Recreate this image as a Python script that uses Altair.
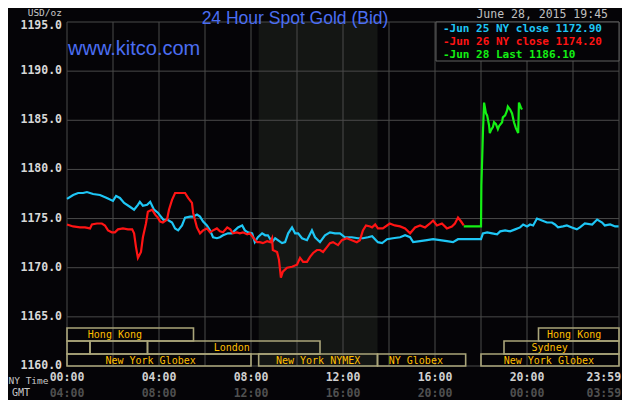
import altair as alt
import pandas as pd

# ---------------- data ----------------
series_names = ["Jun 25 NY close", "Jun 26 NY close", "Jun 28 Last"]
series_close = [1172.90, 1174.20, 1186.10]
series_colors = ["#1ec6f5", "#ff1414", "#14f014"]

# minutes after 00:00 NY time
jun25_t = [0,16,29,42,52,68,86,104,120,128,138,149,164,175,185,190,198,209,217,227,
           237,245,253,261,274,282,290,300,308,321,329,339,347,355,365,373,381,391,399,407,
           420,430,438,446,457,464,472,483,490,498,509,517,524,535,543,550,561,569,577,587,
           595,603,613,626,639,647,660,673,686,699,712,725,743,759,772,785,796,811,822,835,
           850,869,882,895,903,921,939,955,973,991,1007,1020,1043,1064,1080,1085,1096,1109,1122,1130,
           1143,1156,1169,1182,1190,1200,1208,1216,1226,1239,1252,1265,1273,1281,1294,1304,1317,1330,1338,1351,
           1370,1383,1396,1403,1417,1430,1439]
jun25_p = [1177.0,1177.4,1177.6,1177.6,1177.7,1177.5,1177.4,1177.1,1176.8,1177.3,
           1177.1,1176.6,1176.2,1175.9,1176.4,1176.7,1176.3,1176.4,1176.7,1175.9,
           1175.6,1175.2,1174.8,1174.9,1174.6,1174.0,1173.8,1174.3,1175.1,1175.2,
           1175.2,1175.4,1175.2,1174.7,1174.3,1173.8,1173.1,1173.0,1173.1,1173.3,
           1173.5,1173.5,1173.8,1174.1,1174.3,1173.8,1173.6,1173.5,1172.6,1173.1,
           1173.5,1173.3,1173.3,1172.6,1173.0,1172.8,1172.5,1172.6,1173.5,1174.1,
           1173.5,1173.5,1173.0,1172.8,1173.8,1173.1,1172.6,1173.3,1173.6,1173.5,
           1173.5,1173.1,1173.1,1173.0,1173.0,1173.1,1173.2,1172.6,1172.5,1172.9,
           1173.0,1173.1,1173.3,1173.1,1172.6,1172.7,1172.8,1172.9,1172.8,1172.7,
           1172.6,1172.9,1172.9,1172.9,1172.9,1173.5,1173.6,1173.5,1173.4,1173.7,
           1173.8,1173.7,1173.9,1174.1,1174.4,1174.2,1174.4,1174.3,1175.0,1174.8,
           1174.6,1174.6,1174.4,1174.1,1174.2,1174.3,1174.1,1173.9,1174.1,1174.5,
           1174.4,1174.9,1174.6,1174.3,1174.4,1174.2,1174.2]

jun26_t = [0,16,34,47,60,65,78,91,99,107,117,125,133,146,159,170,175,180,185,193,
           198,206,211,222,230,237,243,250,261,266,274,282,295,308,316,326,329,339,347,355,
           365,373,381,391,399,407,418,426,433,443,451,459,470,477,485,496,503,511,522,530,
           535,537,548,553,558,563,574,587,600,608,616,626,634,642,652,660,668,678,686,694,
           707,717,730,743,756,764,772,780,791,796,804,811,824,842,855,869,882,895,908,921,
           934,947,955,965,978,991,1004,1012,1020,1028,1035]
jun26_p = [1174.4,1174.2,1174.1,1174.1,1174.0,1174.4,1174.5,1174.5,1174.3,1173.8,
           1173.6,1173.6,1173.9,1174.0,1173.9,1173.9,1173.5,1172.1,1171.0,1171.6,
           1173.1,1174.5,1175.7,1175.9,1175.4,1175.1,1174.7,1174.6,1174.9,1175.9,
           1176.9,1177.6,1177.6,1177.6,1177.1,1176.6,1175.6,1174.1,1173.5,1173.8,
           1174.0,1173.6,1173.8,1174.0,1173.7,1173.6,1174.1,1173.9,1173.5,1173.6,
           1173.5,1173.6,1173.4,1173.5,1173.1,1172.6,1172.6,1172.5,1172.7,1172.6,
           1173.0,1171.8,1171.6,1170.8,1169.0,1169.6,1170.0,1170.1,1170.3,1171.0,
           1170.6,1170.6,1171.1,1171.5,1171.8,1171.8,1171.6,1172.1,1172.5,1172.6,
           1172.3,1172.8,1173.0,1172.8,1172.6,1172.8,1173.8,1174.3,1174.2,1174.1,
           1174.4,1174.0,1174.0,1174.5,1174.3,1174.2,1174.0,1173.5,1174.1,1174.3,
           1174.1,1174.5,1174.8,1174.3,1174.5,1174.0,1174.2,1174.5,1175.1,1174.7,
           1174.3]

jun28_t = [1035,1080,1081,1084,1085,1088,1093,1096,1101,1103,1106,1111,1114,1119,1124,
           1127,1135,1137,1143,1148,1150,1156,1161,1166,1171,1177,1179,1184,1187]
jun28_p = [1174.2,1174.2,1178.4,1182.3,1183.7,1186.8,1185.7,1185.5,1184.5,1183.7,
           1184.0,1184.3,1184.8,1184.6,1184.1,1184.4,1184.8,1185.3,1185.5,1186.0,
           1186.4,1186.1,1185.7,1184.8,1184.2,1183.7,1186.8,1186.3,1186.1]

y_ticks = [1160, 1165, 1170, 1175, 1180, 1185, 1190, 1195]
x_grid = [0, 120, 240, 360, 480, 600, 720, 840, 960, 1080, 1200, 1320, 1440]
x_label_t = [0, 240, 480, 720, 960, 1200]
ny_labels = ["00:00", "04:00", "08:00", "12:00", "16:00", "20:00"]
gmt_labels = ["04:00", "08:00", "12:00", "16:00", "20:00", "00:00"]
last_t, last_ny, last_gmt = 1439, "23:59", "03:59"

nymex_start, nymex_end = 500, 810

sess_start = [0, 1230, 0, 60, 210, 1140, 0, 500, 810, 1080]
sess_end = [330, 1440, 60, 210, 660, 1440, 480, 810, 1040, 1440]
sess_row = [0, 0, 1, 1, 1, 1, 2, 2, 2, 2]
sess_label = ["Hong Kong", "Hong Kong", "", "", "London", "Sydney",
              "New York Globex", "New York NYMEX", "NY Globex", "New York Globex"]
sess_label_t = [125, 1323, 30, 135, 430, 1259, 218, 655, 910, 1257]

title_text = "24 Hour Spot Gold (Bid)"
site_text = "www.kitco.com"
date_text = "June 28, 2015 19:45"
unit_text = "USD/oz"

# ---------------- styling ----------------
W, H = 552, 344
BG = "#050407"
GRID = "#4a4a4a"
MONO = "DejaVu Sans Mono"
SANS = "Liberation Sans"
BLUE_T = "#4b6ef2"
SESS_STROKE = "#aaa57a"
SESS_TEXT = "#ffbf00"

xs = alt.Scale(domain=[0, 1440], nice=False, zero=False)
ys = alt.Scale(domain=[1160, 1195], nice=False, zero=False)

one = pd.DataFrame({"a": [0]})

rows = []
for name, ts, ps in zip(series_names, [jun25_t, jun26_t, jun28_t], [jun25_p, jun26_p, jun28_p]):
    for t, p in zip(ts, ps):
        rows.append({"series": name, "t": t, "p": p})
df = pd.DataFrame(rows)

shade = alt.Chart(pd.DataFrame({"s": [nymex_start], "e": [nymex_end],
                                "top": [max(y_ticks)], "bot": [min(y_ticks)]})).mark_rect(
    color="#141614").encode(
    x=alt.X("s:Q", scale=xs, axis=None), x2="e:Q",
    y=alt.Y("top:Q", scale=ys, axis=None), y2="bot:Q")

vgrid = alt.Chart(pd.DataFrame({"t": x_grid})).mark_rule(color=GRID, strokeWidth=1).encode(
    x=alt.X("t:Q", scale=xs, axis=None))
hgrid = alt.Chart(pd.DataFrame({"p": y_ticks})).mark_rule(color=GRID, strokeWidth=1).encode(
    y=alt.Y("p:Q", scale=ys, axis=None))

ylab_df = pd.DataFrame({"p": y_ticks})
ylab = alt.Chart(ylab_df).transform_filter(alt.datum.p < max(y_ticks)).mark_text(
    font=MONO, fontSize=11.5, fontWeight="bold", color="#d8d8d8", align="right",
    baseline="middle", dx=-5).encode(
    x=alt.value(0), y=alt.Y("p:Q", scale=ys, axis=None), text=alt.Text("p:Q", format=".1f"))
ylab_top = alt.Chart(ylab_df).transform_filter(alt.datum.p == max(y_ticks)).mark_text(
    font=MONO, fontSize=11.5, fontWeight="bold", color="#d8d8d8", align="right",
    baseline="middle", dx=-5, dy=4).encode(
    x=alt.value(0), y=alt.Y("p:Q", scale=ys, axis=None), text=alt.Text("p:Q", format=".1f"))

sdf = pd.DataFrame({"s": sess_start, "e": sess_end, "row": sess_row,
                    "label": sess_label, "lt": sess_label_t})
row_top = [306, 319, 332]
row_bot = [319, 332, 344]
row_mid = [312.5, 325.5, 338.5]
sess_layers = []
for r in range(3):
    base = alt.Chart(sdf).transform_filter(alt.datum.row == r)
    sess_layers.append(base.mark_rect(fillOpacity=0, stroke=SESS_STROKE, strokeWidth=1.6).encode(
        x=alt.X("s:Q", scale=xs, axis=None), x2="e:Q",
        y=alt.value(row_top[r]), y2=alt.value(row_bot[r])))
    sess_layers.append(base.mark_text(font=MONO, fontSize=10, color=SESS_TEXT, baseline="middle").encode(
        x=alt.X("lt:Q", scale=xs, axis=None), y=alt.value(row_mid[r]), text="label:N"))

lines = alt.Chart(df).mark_line(strokeWidth=2.2).encode(
    x=alt.X("t:Q", scale=xs, axis=None),
    y=alt.Y("p:Q", scale=ys, axis=None),
    color=alt.Color("series:N", scale=alt.Scale(domain=series_names, range=series_colors), legend=None),
    detail="series:N")

legend_box = alt.Chart(one).mark_rect(fill=BG, stroke="#606060", strokeWidth=1).encode(
    x=alt.value(369), x2=alt.value(552), y=alt.value(0), y2=alt.value(39))
legend_layers = []
for i, (n, c, col) in enumerate(zip(series_names, series_close, series_colors)):
    legend_layers.append(alt.Chart(one).mark_text(
        text=f"-{n} {c:.2f}", font=MONO, fontSize=11, fontWeight="bold", color=col,
        align="left", baseline="middle").encode(x=alt.value(376), y=alt.value(6.5 + 13 * i)))

title = alt.Chart(one).mark_text(text=title_text, font=SANS, fontSize=17.5, color=BLUE_T,
                                 align="center", baseline="alphabetic").encode(
    x=alt.value(228), y=alt.value(1.9))
site = alt.Chart(one).mark_text(text=site_text, font=SANS, fontSize=20, color=BLUE_T,
                                align="left", baseline="alphabetic").encode(
    x=alt.value(1), y=alt.value(33))
date = alt.Chart(one).mark_text(text=date_text, font=MONO, fontSize=11.5, color="#c0c0c0",
                                align="right", baseline="middle").encode(
    x=alt.value(541), y=alt.value(-7))
unit = alt.Chart(one).mark_text(text=unit_text, font=MONO, fontSize=9.5, color="#c8c8c8",
                                align="right", baseline="top").encode(
    x=alt.value(-5), y=alt.value(-14))

xl = pd.DataFrame({"t": x_label_t, "ny": ny_labels, "gmt": gmt_labels})
ny_lab = alt.Chart(xl).mark_text(font=MONO, fontSize=11.5, fontWeight="bold", color="#d0d0d0",
                                 baseline="middle").encode(
    x=alt.X("t:Q", scale=xs, axis=None), y=alt.value(355.5), text="ny:N")
gmt_lab = alt.Chart(xl).mark_text(font=MONO, fontSize=11.5, fontWeight="bold", color="#505050",
                                  baseline="middle").encode(
    x=alt.X("t:Q", scale=xs, axis=None), y=alt.value(371.5), text="gmt:N")
xl2 = pd.DataFrame({"t": [last_t], "ny": [last_ny], "gmt": [last_gmt]})
ny_last = alt.Chart(xl2).mark_text(font=MONO, fontSize=11.5, fontWeight="bold", color="#d0d0d0",
                                   baseline="middle", align="right", dx=2.5).encode(
    x=alt.X("t:Q", scale=xs, axis=None), y=alt.value(355.5), text="ny:N")
gmt_last = alt.Chart(xl2).mark_text(font=MONO, fontSize=11.5, fontWeight="bold", color="#505050",
                                    baseline="middle", align="right", dx=2.5).encode(
    x=alt.X("t:Q", scale=xs, axis=None), y=alt.value(371.5), text="gmt:N")
nytime = alt.Chart(one).mark_text(text="NY Time", font=MONO, fontSize=9.5, color="#c8c8c8",
                                  baseline="middle", align="center").encode(
    x=alt.value(-38.5), y=alt.value(358.5))
gmt_t = alt.Chart(one).mark_text(text="GMT", font=MONO, fontSize=10, color="#c8c8c8",
                                 baseline="middle", align="center").encode(
    x=alt.value(-46), y=alt.value(370.5))

chart = alt.layer(
    shade, vgrid, hgrid, *sess_layers, lines, legend_box, *legend_layers,
    title, site, date, unit, ylab, ylab_top, ny_lab, gmt_lab, ny_last, gmt_last, nytime, gmt_t
).properties(
    width=W, height=H,
    padding={"left": 59, "top": 14, "right": 3, "bottom": 34},
    autosize=alt.AutoSizeParams(type="none"),
).configure(background=BG).configure_view(stroke=None)

chart.save("out.html", embed_options={"renderer": "svg", "actions": False})
